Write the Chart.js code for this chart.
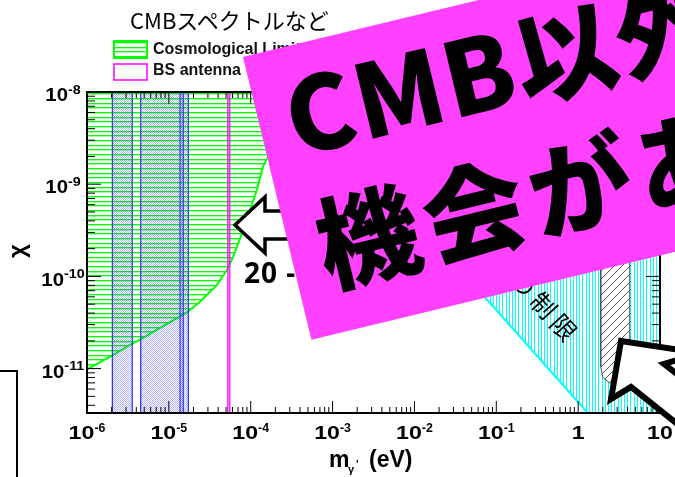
<!DOCTYPE html>
<html>
<head>
<meta charset="utf-8">
<script src="https://cdn.jsdelivr.net/npm/chart.js@4.4.1/dist/chart.umd.min.js"></script>
<style>
  html, body { margin: 0; padding: 0; background: #fff; overflow: hidden; }
  #stage { position: relative; width: 675px; height: 477px; overflow: hidden; background: #fff; }
  #c { position: absolute; left: 0; top: 0; }
  .abs { position: absolute; white-space: nowrap; }
  #title { left: 130px; top: 8px; font: 400 22px/22px "Noto Sans CJK JP"; color: #000; }
  #note20 { left: 244px; top: 258px; font: 700 28px/28px "Noto Sans"; color: #000; letter-spacing: 1px; }
  #limitNote { left: 516px; top: 258px; font: 400 25px/30px "Noto Sans CJK JP"; color: #000;
               letter-spacing: 5px; transform: rotate(47.6deg); transform-origin: 0 50%; }
  #sideBox { left: -10px; top: 370px; width: 24px; height: 130px; border: 2px solid #000; }
  #banner { left: 243px; top: 57px; width: 760px; height: 291px; background: #ff40ff;
            transform: rotate(-13.6deg); transform-origin: 0 0; }
  #banner div { position: absolute; left: 28px; font: 900 102px/102px "Noto Sans CJK JP";
                color: #000; letter-spacing: 2px; white-space: nowrap; }
  #banner div.second { letter-spacing: 7px; }
</style>
</head>
<body>
<div id="stage">
  <canvas id="c" width="675" height="477"></canvas>
  <div id="title" class="abs">CMBスペクトルなど</div>
  <svg class="abs" style="left:0;top:0" width="675" height="477">
    <polygon points="235,225 265,197 265,211 300,211 300,239 265,239 265,253"
             fill="#fff" stroke="#000" stroke-width="3.5" stroke-linejoin="miter"/>
    <polygon points="621,341 700,353 664,364 760,438 735,470 631,387 611,399"
             fill="#fff" stroke="#000" stroke-width="6" stroke-linejoin="miter"/>
  </svg>
  <div id="note20" class="abs">20 -</div>
  <div id="limitNote" class="abs">の制限</div>
  <div id="sideBox" class="abs"></div>
  <div id="banner" class="abs">
    <div style="top:15px">CMB以外</div>
    <div class="second" style="top:148px">機会があ</div>
  </div>
</div>
<script>
// ---- axis ranges ----
const massMin = 1e-6, massMax = 10;
const chiMin = 3.3e-12, chiMax = 1e-8;

// ---- cosmological limit (excluded above the curve) ----
const cosmoMass = [1e-6, 2.02e-6, 3.54e-6, 4.44e-6, 1.49e-5, 1.71e-5, 2.40e-5, 3.87e-5,
                   5.12e-5, 6.07e-5, 9.0e-5, 1.19e-4, 1.41e-4, 1.71e-4, 2.15e-4, 2.54e-4];
const cosmoChi  = [9.8e-12, 1.38e-11, 1.86e-11, 2.06e-11, 3.84e-11, 4.14e-11, 5.31e-11, 8.1e-11,
                   1.17e-10, 1.62e-10, 4.1e-10, 8.7e-10, 1.54e-9, 2.18e-9, 4.5e-9, 1.0e-8];

// ---- cavity search bands (mass windows, eV) ----
const bandLow  = [2.04e-6, 4.53e-6, 1.37e-5];
const bandHigh = [3.57e-6, 1.73e-5, 1.50e-5];

// ---- BS antenna window (eV) ----
const antennaLow = 5.25e-5, antennaHigh = 5.55e-5;

// ---- diagonal limit: edge line and the excluded area to its right ----
const edgeMass = [4.3e-4, 1.31];
const edgeChi  = [1e-8, 3.3e-12];
const edgeAreaMass = [4.3e-4, 1.31, 10, 10];
const edgeAreaChi  = [1e-8, 3.3e-12, 3.3e-12, 1e-8];

// ---- hatched region ----
const hatchMass = [1.89, 1.89, 2.0, 2.43, 3.2, 4.27, 4.27];
const hatchChi  = [1e-8, 1.05e-11, 8e-12, 7e-12, 6.5e-12, 8e-12, 1e-8];

// ---- tick labels ----
const xTickPowers = [-6, -5, -4, -3, -2, -1, 0, 1];
const xTickBase   = ['10', '10', '10', '10', '10', '10', '1', '10'];
const xTickSup    = ['-6', '-5', '-4', '-3', '-2', '-1', '', ''];
const yTickPowers = [-8, -9, -10, -11];
const yTickBase   = ['10', '10', '10', '10'];
const yTickSup    = ['-8', '-9', '-10', '-11'];

const legendLabels = ['Cosmological Limit', 'BS antenna'];

// ---- fill patterns ----
function makePattern(w, h, paint) {
  const cv = document.createElement('canvas');
  cv.width = w; cv.height = h;
  const g = cv.getContext('2d');
  paint(g);
  return g.createPattern(cv, 'repeat');
}
const greenHatch = makePattern(1, 14, g => {
  [0, 5, 9].forEach(r => { g.fillStyle = '#00ff00'; g.fillRect(0, r, 1, 1);
                            g.fillStyle = 'rgba(0,255,0,0.35)'; g.fillRect(0, r + 1, 1, 1); });
});
const cyanHatch = makePattern(16, 1, g => {
  g.fillStyle = '#fff'; g.fillRect(0, 0, 16, 1);
  g.fillStyle = '#00ffff';
  [0, 3, 6, 10, 13].forEach(c => g.fillRect(c, 0, 1, 1));
});
const darkHatch = makePattern(8, 8, g => {
  g.fillStyle = '#fff'; g.fillRect(0, 0, 8, 8);
  g.strokeStyle = '#555'; g.lineWidth = 1;
  g.beginPath();
  g.moveTo(-1, 9); g.lineTo(9, -1);
  g.moveTo(-1, 1); g.lineTo(1, -1);
  g.moveTo(7, 9); g.lineTo(9, 7);
  g.stroke();
});
const blueDots = makePattern(2, 2, g => {
  g.fillStyle = 'rgba(70,70,255,0.42)';
  g.fillRect(0, 0, 1, 1); g.fillRect(1, 1, 1, 1);
});

const pts = (xs, ys) => xs.map((v, i) => ({ x: v, y: ys[i] }));
const box = (lo, hi) => [{ x: lo, y: chiMin }, { x: lo, y: chiMax }, { x: hi, y: chiMax }, { x: hi, y: chiMin }];

const datasets = [
  { label: legendLabels[0], data: pts(cosmoMass, cosmoChi), fill: 'end',
    backgroundColor: greenHatch, borderColor: '#00ff00', borderWidth: 2, order: 7 },
  { label: 'edge area', data: pts(edgeAreaMass, edgeAreaChi), fill: 'shape',
    backgroundColor: cyanHatch, borderColor: 'rgba(0,0,0,0)', borderWidth: 0, order: 6 },
  { label: 'edge', data: pts(edgeMass, edgeChi), fill: false,
    borderColor: '#00ffff', borderWidth: 2, order: 5 },
  { label: 'hatched', data: pts(hatchMass, hatchChi), fill: 'shape',
    backgroundColor: darkHatch, borderColor: '#555', borderWidth: 1, order: 4 },
  ...bandLow.map((lo, i) => ({
    label: 'band ' + (i + 1), data: box(lo, bandHigh[i]), fill: 'shape',
    backgroundColor: blueDots, borderColor: '#2a2aff', borderWidth: 1.2, order: 3 })),
  { label: legendLabels[1], data: box(antennaLow, antennaHigh), fill: 'shape',
    backgroundColor: 'rgba(255,0,255,0.25)', borderColor: '#ff00ff', borderWidth: 1.2, order: 1 }
];
datasets.forEach(d => { d.pointRadius = 0; d.tension = 0; });

function drawPower(ctx, cx, cy, base, sup, sx, supSx, supDy) {
  ctx.font = 'bold 19px "Liberation Sans"';
  const wb = ctx.measureText(base).width * sx;
  ctx.font = 'bold 13px "Liberation Sans"';
  const ws = sup ? ctx.measureText(sup).width * supSx : 0;
  const x0 = cx - (wb + ws) / 2;
  ctx.textAlign = 'left'; ctx.textBaseline = 'middle';
  ctx.save(); ctx.translate(x0, cy); ctx.scale(sx, 1);
  ctx.font = 'bold 19px "Liberation Sans"'; ctx.fillText(base, 0, 0); ctx.restore();
  if (sup) {
    ctx.save(); ctx.translate(x0 + wb, cy + supDy); ctx.scale(supSx, 1);
    ctx.font = 'bold 13px "Liberation Sans"'; ctx.fillText(sup, 0, 0); ctx.restore();
  }
}

const axesPlugin = {
  id: 'axesPlugin',
  afterDraw(chart) {
    const { ctx, chartArea: a, scales: { x, y } } = chart;
    ctx.save();
    ctx.strokeStyle = '#000'; ctx.lineWidth = 1;
    // mass ticks, bottom and top
    for (let p = -7; p <= 1; p++) for (let k = 1; k <= 9; k++) {
      const v = k * Math.pow(10, p);
      if (v < massMin * 0.999 || v > massMax * 1.001) continue;
      const px = x.getPixelForValue(v), len = k === 1 ? 12 : 6;
      ctx.beginPath();
      ctx.moveTo(px, a.bottom); ctx.lineTo(px, a.bottom - len);
      ctx.moveTo(px, a.top); ctx.lineTo(px, a.top + len);
      ctx.stroke();
    }
    // coupling ticks, left and right
    for (let p = -13; p <= -8; p++) for (let k = 1; k <= 9; k++) {
      const v = k * Math.pow(10, p);
      if (v < chiMin * 0.999 || v > chiMax * 1.001) continue;
      const py = y.getPixelForValue(v), len = k === 1 ? 14 : 8;
      ctx.beginPath();
      ctx.moveTo(a.left, py); ctx.lineTo(a.left + len, py);
      ctx.moveTo(a.right, py); ctx.lineTo(a.right - len, py);
      ctx.stroke();
    }
    ctx.lineWidth = 2;
    ctx.strokeRect(a.left, a.top, a.right - a.left, a.bottom - a.top);

    // tick labels
    ctx.fillStyle = '#000';
    xTickPowers.forEach((p, i) => {
      drawPower(ctx, x.getPixelForValue(Math.pow(10, p)), 434, xTickBase[i], xTickSup[i], 1.22, 0.95, -6);
    });
    yTickPowers.forEach((p, i) => {
      const py = y.getPixelForValue(Math.pow(10, p));
      drawPower(ctx, 63, py + 4, yTickBase[i], yTickSup[i], 1.07, 1.1, -6);
    });

    // axis titles
    ctx.textAlign = 'left'; ctx.textBaseline = 'alphabetic';
    ctx.font = 'bold 23px "Liberation Sans"';
    ctx.fillText('m', 329, 467);
    ctx.font = 'bold 11px "Liberation Sans"';
    ctx.fillText('γ', 348, 473);
    ctx.fillText("'", 356, 468);
    ctx.font = 'bold 23px "Liberation Sans"';
    ctx.fillText('(eV)', 369, 467);
    ctx.save();
    ctx.translate(25, 251); ctx.rotate(-Math.PI / 2);
    ctx.textAlign = 'center';
    ctx.font = 'bold 24px "Liberation Sans"';
    ctx.fillText('χ', 0, 0);
    ctx.restore();

    // legend
    ctx.fillStyle = greenHatch; ctx.fillRect(114, 41, 33, 17);
    ctx.strokeStyle = '#00ff00'; ctx.lineWidth = 2; ctx.strokeRect(114, 41, 33, 17);
    ctx.fillStyle = '#fff'; ctx.fillRect(114, 64, 33, 16);
    ctx.strokeStyle = '#ff00ff'; ctx.lineWidth = 1.5; ctx.strokeRect(114, 64, 33, 16);
    ctx.fillStyle = '#111'; ctx.font = 'bold 16px "Liberation Sans"';
    ctx.textBaseline = 'middle';
    ctx.fillText(legendLabels[0], 153, 50);
    ctx.fillText(legendLabels[1], 153, 71);
    ctx.restore();
  }
};

new Chart(document.getElementById('c'), {
  type: 'line',
  data: { datasets },
  options: {
    responsive: false,
    devicePixelRatio: 1,
    animation: false,
    events: [],
    layout: { padding: { left: 87, top: 92, right: 15, bottom: 64 } },
    plugins: { legend: { display: false }, tooltip: { enabled: false } },
    scales: {
      x: { type: 'logarithmic', min: massMin, max: massMax, display: false },
      y: { type: 'logarithmic', min: chiMin, max: chiMax, display: false }
    }
  },
  plugins: [axesPlugin]
});
</script>
</body>
</html>
